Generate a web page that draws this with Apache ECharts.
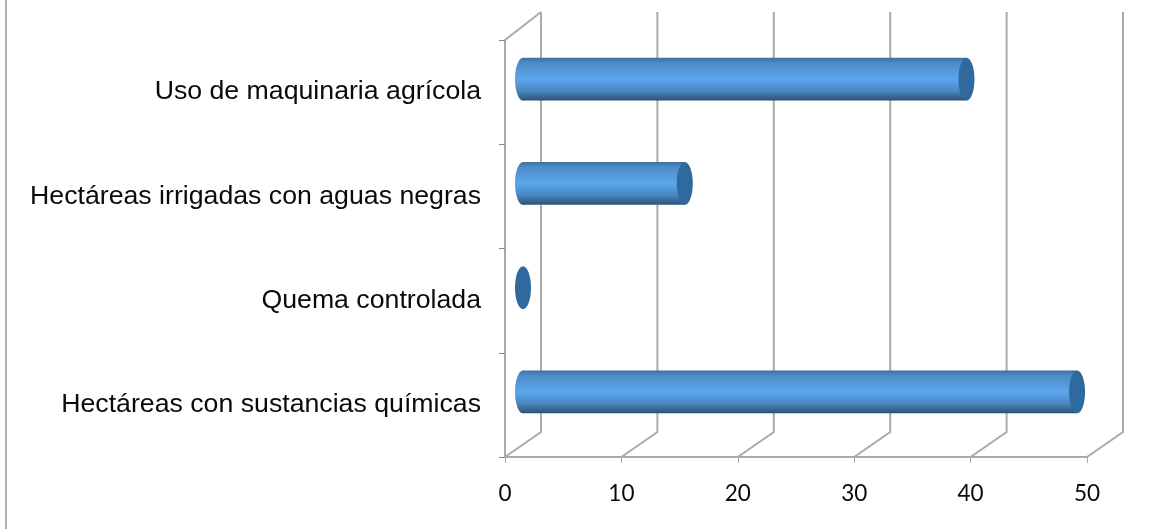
<!DOCTYPE html>
<html lang="es">
<head>
  <meta charset="utf-8">
  <title>Uso de suelo</title>
  <script src="https://cdn.jsdelivr.net/npm/echarts@6/dist/echarts.min.js"></script>
  <style>html,body{margin:0;padding:0;background:#fff}</style>
</head>
<body>
  <div id="main" style="width:1171px;height:529px;"></div>

<script type="text/javascript">
var categories = ['Uso de maquinaria agrícola', 'Hectáreas irrigadas con aguas negras', 'Quema controlada', 'Hectáreas con sustancias químicas'];
var values = [38.1, 13.9, 0, 47.6];
var xTicks = [0, 10, 20, 30, 40, 50];

// profundidad del efecto 3D, en pixeles
var depthX = 36, depthY = 25, wallTop = 12;
var gridColor = '#aaaaaa';

var myChart = echarts.init(document.getElementById('main'));

// pared del fondo: linea diagonal + vertical por cada tick
function renderWall(params, api) {
  var v = api.value(0);
  var p = api.coord([v, categories.length - 1]);
  var half = api.size([0, 1])[1] / 2;
  var bottom = p[1] + half;
  var lineStyle = {stroke: gridColor, lineWidth: 2, fill: null};
  var children = [{
    type: 'polyline',
    shape: {points: [[p[0], bottom], [p[0] + depthX, bottom - depthY], [p[0] + depthX, wallTop]]},
    style: lineStyle
  }];
  // esquina de arriba solo en la primera linea
  if (v === 0) {
    var top = api.coord([0, 0])[1] - half;
    children.push({
      type: 'line',
      shape: {x1: p[0], y1: top, x2: p[0] + depthX, y2: wallTop},
      style: lineStyle
    });
  }
  return {type: 'group', children: children};
}

// cilindro horizontal
function renderBar(params, api) {
  var end = api.coord([api.value(0), api.value(1)]);
  var start = api.coord([0, api.value(1)]);
  var h = api.size([0, 1])[1] * 0.41;
  var cx0 = start[0] + depthX / 2;
  var cx1 = end[0] + depthX / 2;
  var cy = end[1] - depthY / 2 - 0.5;
  var rx = 8;
  var grad = new echarts.graphic.LinearGradient(0, 0, 0, 1, [
    {offset: 0, color: '#3f6f9f'},
    {offset: 0.12, color: '#4d8cc8'},
    {offset: 0.5, color: '#5ba6ee'},
    {offset: 0.78, color: '#4a86bf'},
    {offset: 1, color: '#2c5173'}
  ]);
  var children = [];
  if (cx1 > cx0) {
    children.push({
      type: 'ellipse',
      shape: {cx: cx0, cy: cy, rx: rx, ry: h / 2},
      style: {fill: grad}
    });
    children.push({
      type: 'rect',
      shape: {x: cx0, y: cy - h / 2, width: cx1 - cx0, height: h},
      style: {fill: grad}
    });
  }
  children.push({
    type: 'ellipse',
    shape: {cx: cx1, cy: cy, rx: rx, ry: h / 2},
    style: {fill: '#2f6a9f'}
  });
  return {type: 'group', children: children};
}

var option = {
  animation: false,
  grid: {left: 505, right: 84, top: 40, bottom: 72},
  graphic: [{
    type: 'line',
    shape: {x1: 6, y1: 0, x2: 6, y2: 529},
    style: {stroke: '#b0b0b0', lineWidth: 2},
    silent: true
  }],
  xAxis: {
    type: 'value',
    min: 0,
    max: 50,
    interval: 10,
    splitLine: {show: false},
    axisLine: {show: true, lineStyle: {color: gridColor, width: 2}},
    axisTick: {show: true, length: 6, lineStyle: {color: gridColor, width: 1}},
    axisLabel: {color: '#0a0a0a', fontFamily: 'Lato', fontSize: 22.5, margin: 25}
  },
  yAxis: {
    type: 'category',
    inverse: true,
    data: categories,
    axisLine: {show: true, lineStyle: {color: gridColor, width: 2}},
    axisTick: {show: true, length: 6, alignWithLabel: false, lineStyle: {color: '#888888', width: 1}},
    axisLabel: {
      color: '#0a0a0a',
      fontFamily: 'Liberation Sans',
      fontSize: 26.7,
      margin: 24,
      interval: 0
    }
  },
  series: [{
    type: 'custom',
    renderItem: renderWall,
    clip: false,
    silent: true,
    encode: {x: 0},
    data: xTicks.map(function (t) { return [t]; }),
    z: 1
  }, {
    type: 'custom',
    renderItem: renderBar,
    clip: false,
    silent: true,
    encode: {x: 0, y: 1},
    data: values.map(function (v, i) { return [v, i]; }),
    z: 3
  }]
};

myChart.setOption(option, true);
</script>
</body>
</html>
